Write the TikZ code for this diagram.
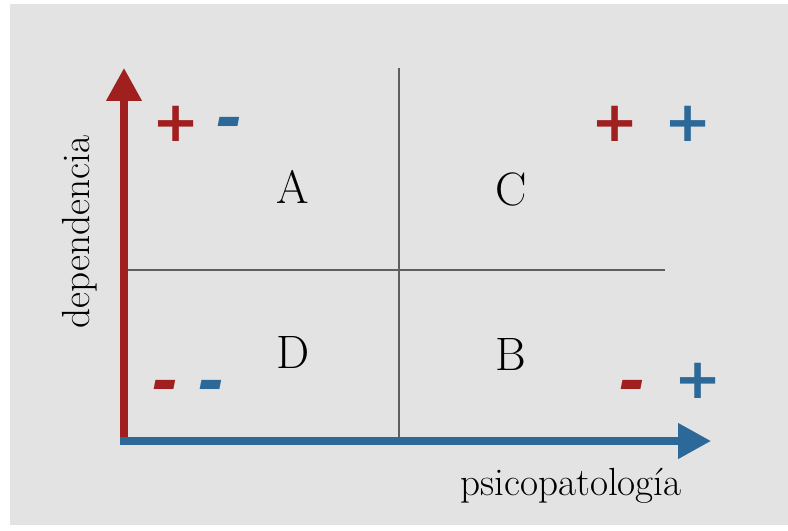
\documentclass[tikz,border=0pt]{standalone}
\usepackage{fontspec}
\newfontfamily\signfont{DejaVu Sans}
\definecolor{AxisRed}{RGB}{160, 32, 32}
\definecolor{AxisBlue}{RGB}{44, 104, 152}
\definecolor{PanelGray}{RGB}{226, 227, 226}
\definecolor{GridGray}{RGB}{95, 95, 95}
\usetikzlibrary{arrows.meta}

\begin{document}
\begin{tikzpicture}[x=0.03cm, y=-0.03cm,
  every node/.style={inner sep=0pt},
  axisline/.style={line width=6pt, -{Triangle[length=28pt, width=29pt]}},
  gridline/.style={draw=GridGray, line width=1.2pt},
  quadlabel/.style={font=\fontsize{40}{40}\selectfont},
  axislabel/.style={font=\fontsize{33.5}{34}\selectfont},
  plussign/.style={font=\signfont\bfseries\fontsize{48}{48}\selectfont},
  minussign/.style={font=\signfont\bfseries\itshape\fontsize{55}{55}\selectfont, yshift=-6.4pt}]
\useasboundingbox (0,0) rectangle (788,530);
\fill[PanelGray] (10,4) rectangle (788,525);

% axes and quadrants
\coordinate (origin) at (124,441);
\coordinate (ytip) at (124,68);
\coordinate (ybase) at (124,445);
\coordinate (xtip) at (711,441);
\coordinate (xbase) at (120,441);
\coordinate (vtop) at (399,68);
\coordinate (vbot) at (399,441);
\coordinate (hleft) at (124,270);
\coordinate (hright) at (665,270);

\draw[gridline] (vtop) -- (vbot);
\draw[gridline] (hleft) -- (hright);
\draw[axisline, AxisRed] (ybase) -- (ytip);
\draw[axisline, AxisBlue] (xbase) -- (xtip);

\node[quadlabel] (qa) at (293,187) {A};
\node[quadlabel] (qc) at (511,189) {C};
\node[quadlabel] (qd) at (293,352) {D};
\node[quadlabel] (qb) at (511,354) {B};

\node[plussign, AxisRed] (a1) at (176,124) {+};
\node[minussign, AxisBlue] (a2) at (230,121) {-};
\node[plussign, AxisRed] (c1) at (615,124) {+};
\node[plussign, AxisBlue] (c2) at (688,124) {+};
\node[minussign, AxisRed] (d1) at (166,384) {-};
\node[minussign, AxisBlue] (d2) at (212,384) {-};
\node[minussign, AxisRed] (b1) at (633,384) {-};
\node[plussign, AxisBlue] (b2) at (698,381) {+};

\node[axislabel, rotate=90] (ylab) at (80,232) {dependencia};
\node[axislabel] (xlab) at (571,486) {psicopatología};
\end{tikzpicture}
\end{document}
